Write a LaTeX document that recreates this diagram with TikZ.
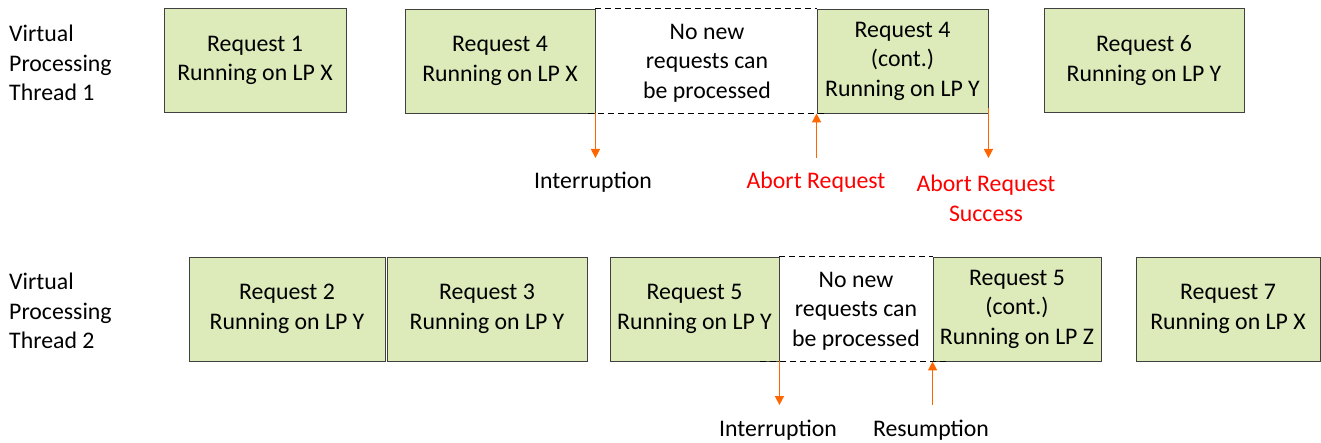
\documentclass[tikz,border=0pt]{standalone}
\usepackage{fontspec}
\setmainfont{Carlito}
\usetikzlibrary{arrows.meta,positioning}
\definecolor{boxfill}{RGB}{221,234,186}
\definecolor{boxline}{RGB}{64,64,64}
\definecolor{arrcol}{RGB}{255,102,0}
\definecolor{abortcol}{RGB}{255,0,0}

\tikzset{
  reqbox/.style={draw=boxline,fill=boxfill,line width=0.9pt,align=center,inner sep=0pt,minimum height=104pt},
  evt/.style={-{Triangle[length=9pt,width=9pt]},arrcol,line width=1.4pt},
  gapline/.style={dashed,dash pattern=on 6pt off 4pt,line width=1pt},
}

\begin{document}
\begin{tikzpicture}[x=1pt,y=-1pt,font=\fontsize{23.8}{29.5}\selectfont]
\useasboundingbox (0,0) rectangle (1321,443);
% thread 1
\node[align=left,anchor=west,inner sep=0pt] (vpt1) at (9,63) {Virtual\\Processing\\Thread 1};
\node[reqbox,minimum width=182pt] (req1) at (255,60.5) {Request 1\\Running on LP X};
\node[reqbox,minimum width=190pt] (req4a) at (500,61) {Request 4\\Running on LP X};
\node[reqbox,minimum width=171pt] (req4b) at (902.5,61) {Request 4\\(cont.)\\Running on LP Y};
\node[reqbox,minimum width=200pt] (req6) at (1144,60.5) {Request 6\\Running on LP Y};
\node[align=center] (gap1) at (707,63) {No new\\requests can\\be processed};
\draw[gapline] (req4a.north east) -- (req4b.north west);
\draw[gapline] ([xshift=-7pt]req4a.south east) -- ([xshift=8pt]req4b.south west);
\node (intr1) at (593,182) {Interruption};
\node[text=abortcol] (abort) at (816,182) {Abort Request};
\node[text=abortcol,align=center] (abortok) at (986,198.5) {Abort Request\\Success};
\coordinate (intr1tip) at (req4a.south east |- 0,158);
\coordinate (aborttail) at (req4b.south west |- 0,158);
\coordinate (abortoktip) at (req4b.south east |- 0,158);
\draw[evt] (req4a.south east) -- (intr1tip);
\draw[evt] (aborttail) -- (req4b.south west);
\draw[evt] ([yshift=5pt]req4b.south east) -- (abortoktip);
% thread 2
\node[align=left,anchor=west,inner sep=0pt] (vpt2) at (9,311) {Virtual\\Processing\\Thread 2};
\node[reqbox,minimum width=196pt] (req2) at (287,309) {Request 2\\Running on LP Y};
\node[reqbox,minimum width=200pt] (req3) at (487,309) {Request 3\\Running on LP Y};
\node[reqbox,minimum width=169pt] (req5a) at (694.5,309) {Request 5\\Running on LP Y};
\node[reqbox,minimum width=168pt] (req5b) at (1017,309) {Request 5\\(cont.)\\Running on LP Z};
\node[reqbox,minimum width=184pt] (req7) at (1228,309) {Request 7\\Running on LP X};
\node[align=center] (gap2) at (856,311) {No new\\requests can\\be processed};
\draw[gapline] (req5a.north east) -- (req5b.north west);
\draw[gapline] ([xshift=-19pt]req5a.south east) -- ([xshift=14pt]req5b.south west);
\node (intr2) at (778,430) {Interruption};
\node (resume) at (931,430) {Resumption};
\coordinate (intr2tip) at (req5a.south east |- 0,405);
\coordinate (resumetail) at (req5b.south west |- 0,405);
\draw[evt] (req5a.south east) -- (intr2tip);
\draw[evt] (resumetail) -- (req5b.south west);
\end{tikzpicture}
\end{document}
